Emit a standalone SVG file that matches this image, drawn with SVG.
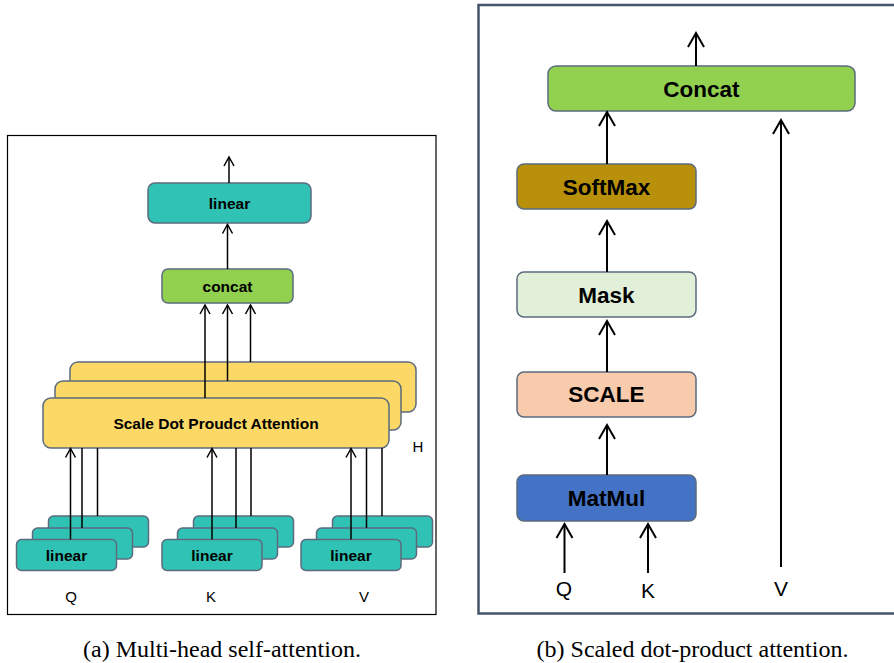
<svg xmlns="http://www.w3.org/2000/svg" width="894" height="663" viewBox="0 0 894 663">
<defs>
<marker id="ahL" markerUnits="userSpaceOnUse" orient="auto" overflow="visible" markerWidth="12" markerHeight="12" refX="0" refY="0">
<path d="M-9,-5 L0,0 L-9,5" fill="none" stroke="#000" stroke-width="1.5"/>
</marker>
<marker id="ahR" markerUnits="userSpaceOnUse" orient="auto" overflow="visible" markerWidth="16" markerHeight="16" refX="0" refY="0">
<path d="M-14,-8 L0,0 L-14,8" fill="none" stroke="#000" stroke-width="2"/>
</marker>
</defs>
<style>
.box{stroke:#5B6B7D;stroke-width:1.5}
.teal{fill:#30C2B4}
.green{fill:#92D050}
.yellow{fill:#FCD966}
.tl{font-family:"Liberation Sans",Arial,sans-serif;font-weight:bold;font-size:15.5px;text-anchor:middle;fill:#000}
.tr{font-family:"Liberation Sans",Arial,sans-serif;font-weight:bold;font-size:22.5px;text-anchor:middle;fill:#000}
.ll{font-family:"Liberation Sans",Arial,sans-serif;font-size:15px;text-anchor:middle;fill:#000}
.lr{font-family:"Liberation Sans",Arial,sans-serif;font-size:21px;text-anchor:middle;fill:#000}
.cap{font-family:"Liberation Serif","Times New Roman",serif;font-size:24px;text-anchor:middle;fill:#000}
.cl{stroke:#000;stroke-width:1.5;fill:none}
.cr{stroke:#000;stroke-width:2;fill:none}
</style>
<rect width="894" height="663" fill="#fff"/>

<!-- Left panel frame -->
<rect x="7.5" y="135.5" width="428.5" height="479" fill="none" stroke="#000" stroke-width="1.2"/>

<g id="linear-top">
<rect class="box teal" x="148" y="183" width="163" height="40" rx="7"/>
<text class="tl" x="229.5" y="208.5">linear</text>
</g>
<g id="concat-left">
<rect class="box green" x="162" y="269" width="131" height="34" rx="6"/>
<text class="tl" x="227.5" y="291.5">concat</text>
</g>
<g id="sdpa">
<rect class="box yellow" x="70" y="362" width="346" height="50" rx="8"/>
<rect class="box yellow" x="55" y="381" width="346" height="49" rx="8"/>
<rect class="box yellow" x="43" y="398" width="346" height="50" rx="8"/>
<text class="tl" x="216" y="428.5">Scale Dot Proudct Attention</text>
</g>
<g id="H-label"><text class="ll" x="418" y="452">H</text></g>

<g id="linear-q">
<rect class="box teal" x="48.5" y="516" width="100" height="31" rx="5"/>
<rect class="box teal" x="32.5" y="528" width="100" height="31" rx="5"/>
<rect class="box teal" x="16.5" y="539.5" width="100" height="31" rx="5"/>
<text class="tl" x="66.5" y="560.5">linear</text>
</g>
<g id="linear-k">
<rect class="box teal" x="193.5" y="516" width="100" height="31" rx="5"/>
<rect class="box teal" x="177.5" y="528" width="100" height="31" rx="5"/>
<rect class="box teal" x="162" y="539.5" width="100" height="31" rx="5"/>
<text class="tl" x="212" y="560.5">linear</text>
</g>
<g id="linear-v">
<rect class="box teal" x="332.5" y="516" width="100" height="31" rx="5"/>
<rect class="box teal" x="316.5" y="528" width="100" height="31" rx="5"/>
<rect class="box teal" x="301" y="539.5" width="100" height="31" rx="5"/>
<text class="tl" x="351" y="560.5">linear</text>
</g>
<g id="qkv-left">
<text class="ll" x="71" y="602">Q</text>
<text class="ll" x="211" y="602">K</text>
<text class="ll" x="364" y="602">V</text>
</g>

<!-- Right panel frame -->
<rect x="478.5" y="5" width="430" height="608.5" fill="none" stroke="#44546A" stroke-width="2.5"/>

<g id="concat-right">
<rect class="box green" x="548" y="66" width="307" height="45" rx="8"/>
<text class="tr" x="701.5" y="97">Concat</text>
</g>
<g id="softmax">
<rect class="box" fill="#B8900A" x="517" y="164" width="179" height="45" rx="7"/>
<text class="tr" x="606.5" y="194.5">SoftMax</text>
</g>
<g id="mask">
<rect class="box" fill="#E2F0D9" x="517" y="272" width="179" height="45" rx="7"/>
<text class="tr" x="606.5" y="303">Mask</text>
</g>
<g id="scale">
<rect class="box" fill="#F8CBAD" x="517" y="372" width="179" height="45" rx="7"/>
<text class="tr" x="606.5" y="402">SCALE</text>
</g>
<g id="matmul">
<rect class="box" fill="#4472C4" x="517" y="475" width="179" height="46" rx="7"/>
<text class="tr" x="606.5" y="506">MatMul</text>
</g>
<g id="qkv-right">
<text class="lr" x="564" y="596">Q</text>
<text class="lr" x="648" y="598">K</text>
<text class="lr" x="781" y="596">V</text>
</g>

<g id="connectors">
<!-- left -->
<line class="cl" x1="229" y1="183" x2="229" y2="157" marker-end="url(#ahL)"/>
<line class="cl" x1="227.5" y1="269" x2="227.5" y2="224.5" marker-end="url(#ahL)"/>
<line class="cl" x1="205" y1="398" x2="205" y2="305" marker-end="url(#ahL)"/>
<line class="cl" x1="227.5" y1="381" x2="227.5" y2="305" marker-end="url(#ahL)"/>
<line class="cl" x1="250.5" y1="362" x2="250.5" y2="305" marker-end="url(#ahL)"/>
<line class="cl" x1="70.5" y1="539.5" x2="70.5" y2="448.5" marker-end="url(#ahL)"/>
<line class="cl" x1="82" y1="528" x2="82" y2="448"/>
<line class="cl" x1="97.5" y1="516" x2="97.5" y2="448"/>
<line class="cl" x1="212" y1="539.5" x2="212" y2="448.5" marker-end="url(#ahL)"/>
<line class="cl" x1="236" y1="528" x2="236" y2="448"/>
<line class="cl" x1="251" y1="516" x2="251" y2="448"/>
<line class="cl" x1="351" y1="539.5" x2="351" y2="448.5" marker-end="url(#ahL)"/>
<line class="cl" x1="366.5" y1="528" x2="366.5" y2="448"/>
<line class="cl" x1="382" y1="516" x2="382" y2="448"/>
<!-- right -->
<line class="cr" x1="696" y1="66" x2="696" y2="33" marker-end="url(#ahR)"/>
<line class="cr" x1="607" y1="164" x2="607" y2="112" marker-end="url(#ahR)"/>
<line class="cr" x1="607" y1="272" x2="607" y2="221" marker-end="url(#ahR)"/>
<line class="cr" x1="607" y1="372" x2="607" y2="321" marker-end="url(#ahR)"/>
<line class="cr" x1="607" y1="475" x2="607" y2="425" marker-end="url(#ahR)"/>
<line class="cr" x1="564.5" y1="573" x2="564.5" y2="524" marker-end="url(#ahR)"/>
<line class="cr" x1="648" y1="573" x2="648" y2="524" marker-end="url(#ahR)"/>
<line class="cr" x1="781" y1="567" x2="781" y2="120" marker-end="url(#ahR)"/>
</g>

<g id="captions">
<text class="cap" x="222" y="657">(a) Multi-head self-attention.</text>
<text class="cap" x="692.5" y="657">(b) Scaled dot-product attention.</text>
</g>
</svg>
